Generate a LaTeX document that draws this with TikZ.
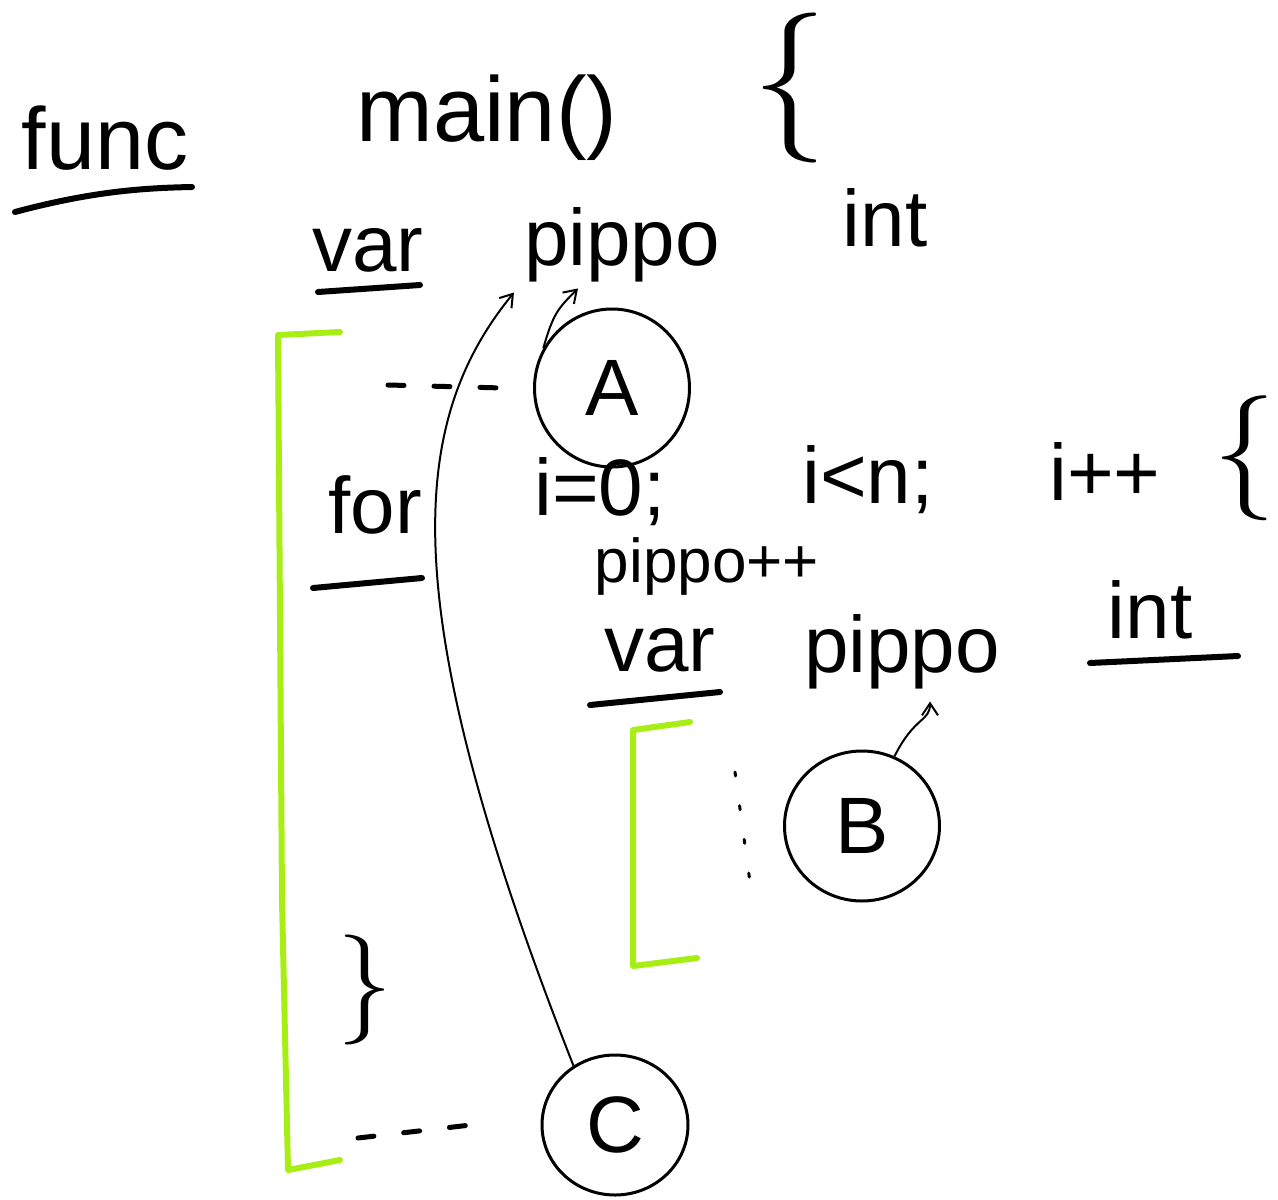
\documentclass[tikz,border=0pt]{standalone}
\usepackage{fontspec}
\setmainfont{Liberation Sans}
\newfontfamily\bracefont{Latin Modern Roman}
\usetikzlibrary{arrows.meta,shapes.geometric}
\definecolor{limegreen}{RGB}{166,238,20}
\begin{document}
\begin{tikzpicture}[x=1pt,y=-1pt,
  hw/.style={font=\fontsize{80}{90}\selectfont, inner sep=0pt},
  hws/.style={font=\fontsize{62}{70}\selectfont, inner sep=0pt},
  brc/.style={font=\bracefont\fontsize{#1}{#1}\selectfont, inner sep=0pt},
  ul/.style={line width=6pt, line cap=round},
  brk/.style={draw=limegreen, line width=6pt, line cap=round, line join=round},
  circ/.style={draw, ellipse, line width=3pt, inner sep=0pt, font=\fontsize{80}{90}\selectfont},
  conn/.style={line width=2pt, -{Straight Barb[length=12pt,width=16pt]}},
  dashl/.style={line width=5pt, dash pattern=on 16pt off 30pt, line cap=round}
]
\useasboundingbox (0,0) rectangle (1278,1200);

% ---- line 1
\node[hw, font=\fontsize{88}{96}\selectfont] (func) at (105,138) {func};
\node[hw, font=\fontsize{92}{100}\selectfont] (main) at (487,118) {main()};
\node[brc=150] (ob1) at (790,88) {\{};
\draw[ul] (15,212) .. controls (90,192) and (140,188) .. (192,187);

% ---- line 2
\node[hw] (var1) at (368,250) {var};
\node[hw] (pippo1) at (622,245) {pippo};
\node[hw] (int1) at (885,218) {int};
\draw[ul] (318,292) -- (420,285);

% ---- for line
\node[hw] (for) at (375,505) {for};
\draw[ul] (313,588) -- (422,578);
\node[hw] (init) at (600,492) {i=0;};
\node[hw] (cond) at (868,480) {i<n;};
\node[hw] (inc) at (1105,472) {i++};
\node[brc=125] (ob2) at (1245,458) {\{};

% ---- body
\node[hws] (pinc) at (707,566) {pippo++};
\node[hw] (var2) at (660,650) {var};
\node[hw] (pippo2) at (902,652) {pippo};
\node[hw] (int2) at (1150,610) {int};
\draw[ul] (590,705) -- (720,692);
\draw[ul] (1090,663) -- (1238,656);

\node[brc=110] (cb) at (365,990) {\}};

% ---- scope markers
\node[circ, minimum width=155pt, minimum height=158pt] (A) at (612,388) {A};
\node[circ, minimum width=155pt, minimum height=150pt] (B) at (862,826) {B};
\node[circ, minimum width=146pt, minimum height=140pt] (C) at (615,1125) {C};

% green brackets
\draw[brk] (340,332) -- (278,335) -- (282,900) -- (288,1170) -- (340,1160);
\draw[brk] (690,722) -- (633,730) -- (633,966) -- (697,958);

% dashed leaders
\coordinate (dA) at (388,385);
\coordinate (dC) at (358,1138);
\draw[dashl] (dA) -- ([xshift=-30pt]A.west);
\draw[dashl] (dC) -- ([xshift=-70pt]C.west);
\coordinate (dB1) at (735,772);
\coordinate (dB2) at (752,897);
\draw[line width=3pt, dash pattern=on 4pt off 30pt, line cap=round] (dB1) -- (dB2);

% arrows
\draw[conn] (A.150) .. controls +(10,-35) and +(-20,20) .. ([xshift=-44pt,yshift=-6pt]pippo1.south);
\draw[conn] (C.125) .. controls (390,600) and (410,420) .. ([xshift=-108pt,yshift=-10pt]pippo1.south);
\draw[conn] (B.65) .. controls +(20,-40) and +(0,20) .. ([xshift=28pt,yshift=-12pt]pippo2.south);
\end{tikzpicture}
\end{document}
